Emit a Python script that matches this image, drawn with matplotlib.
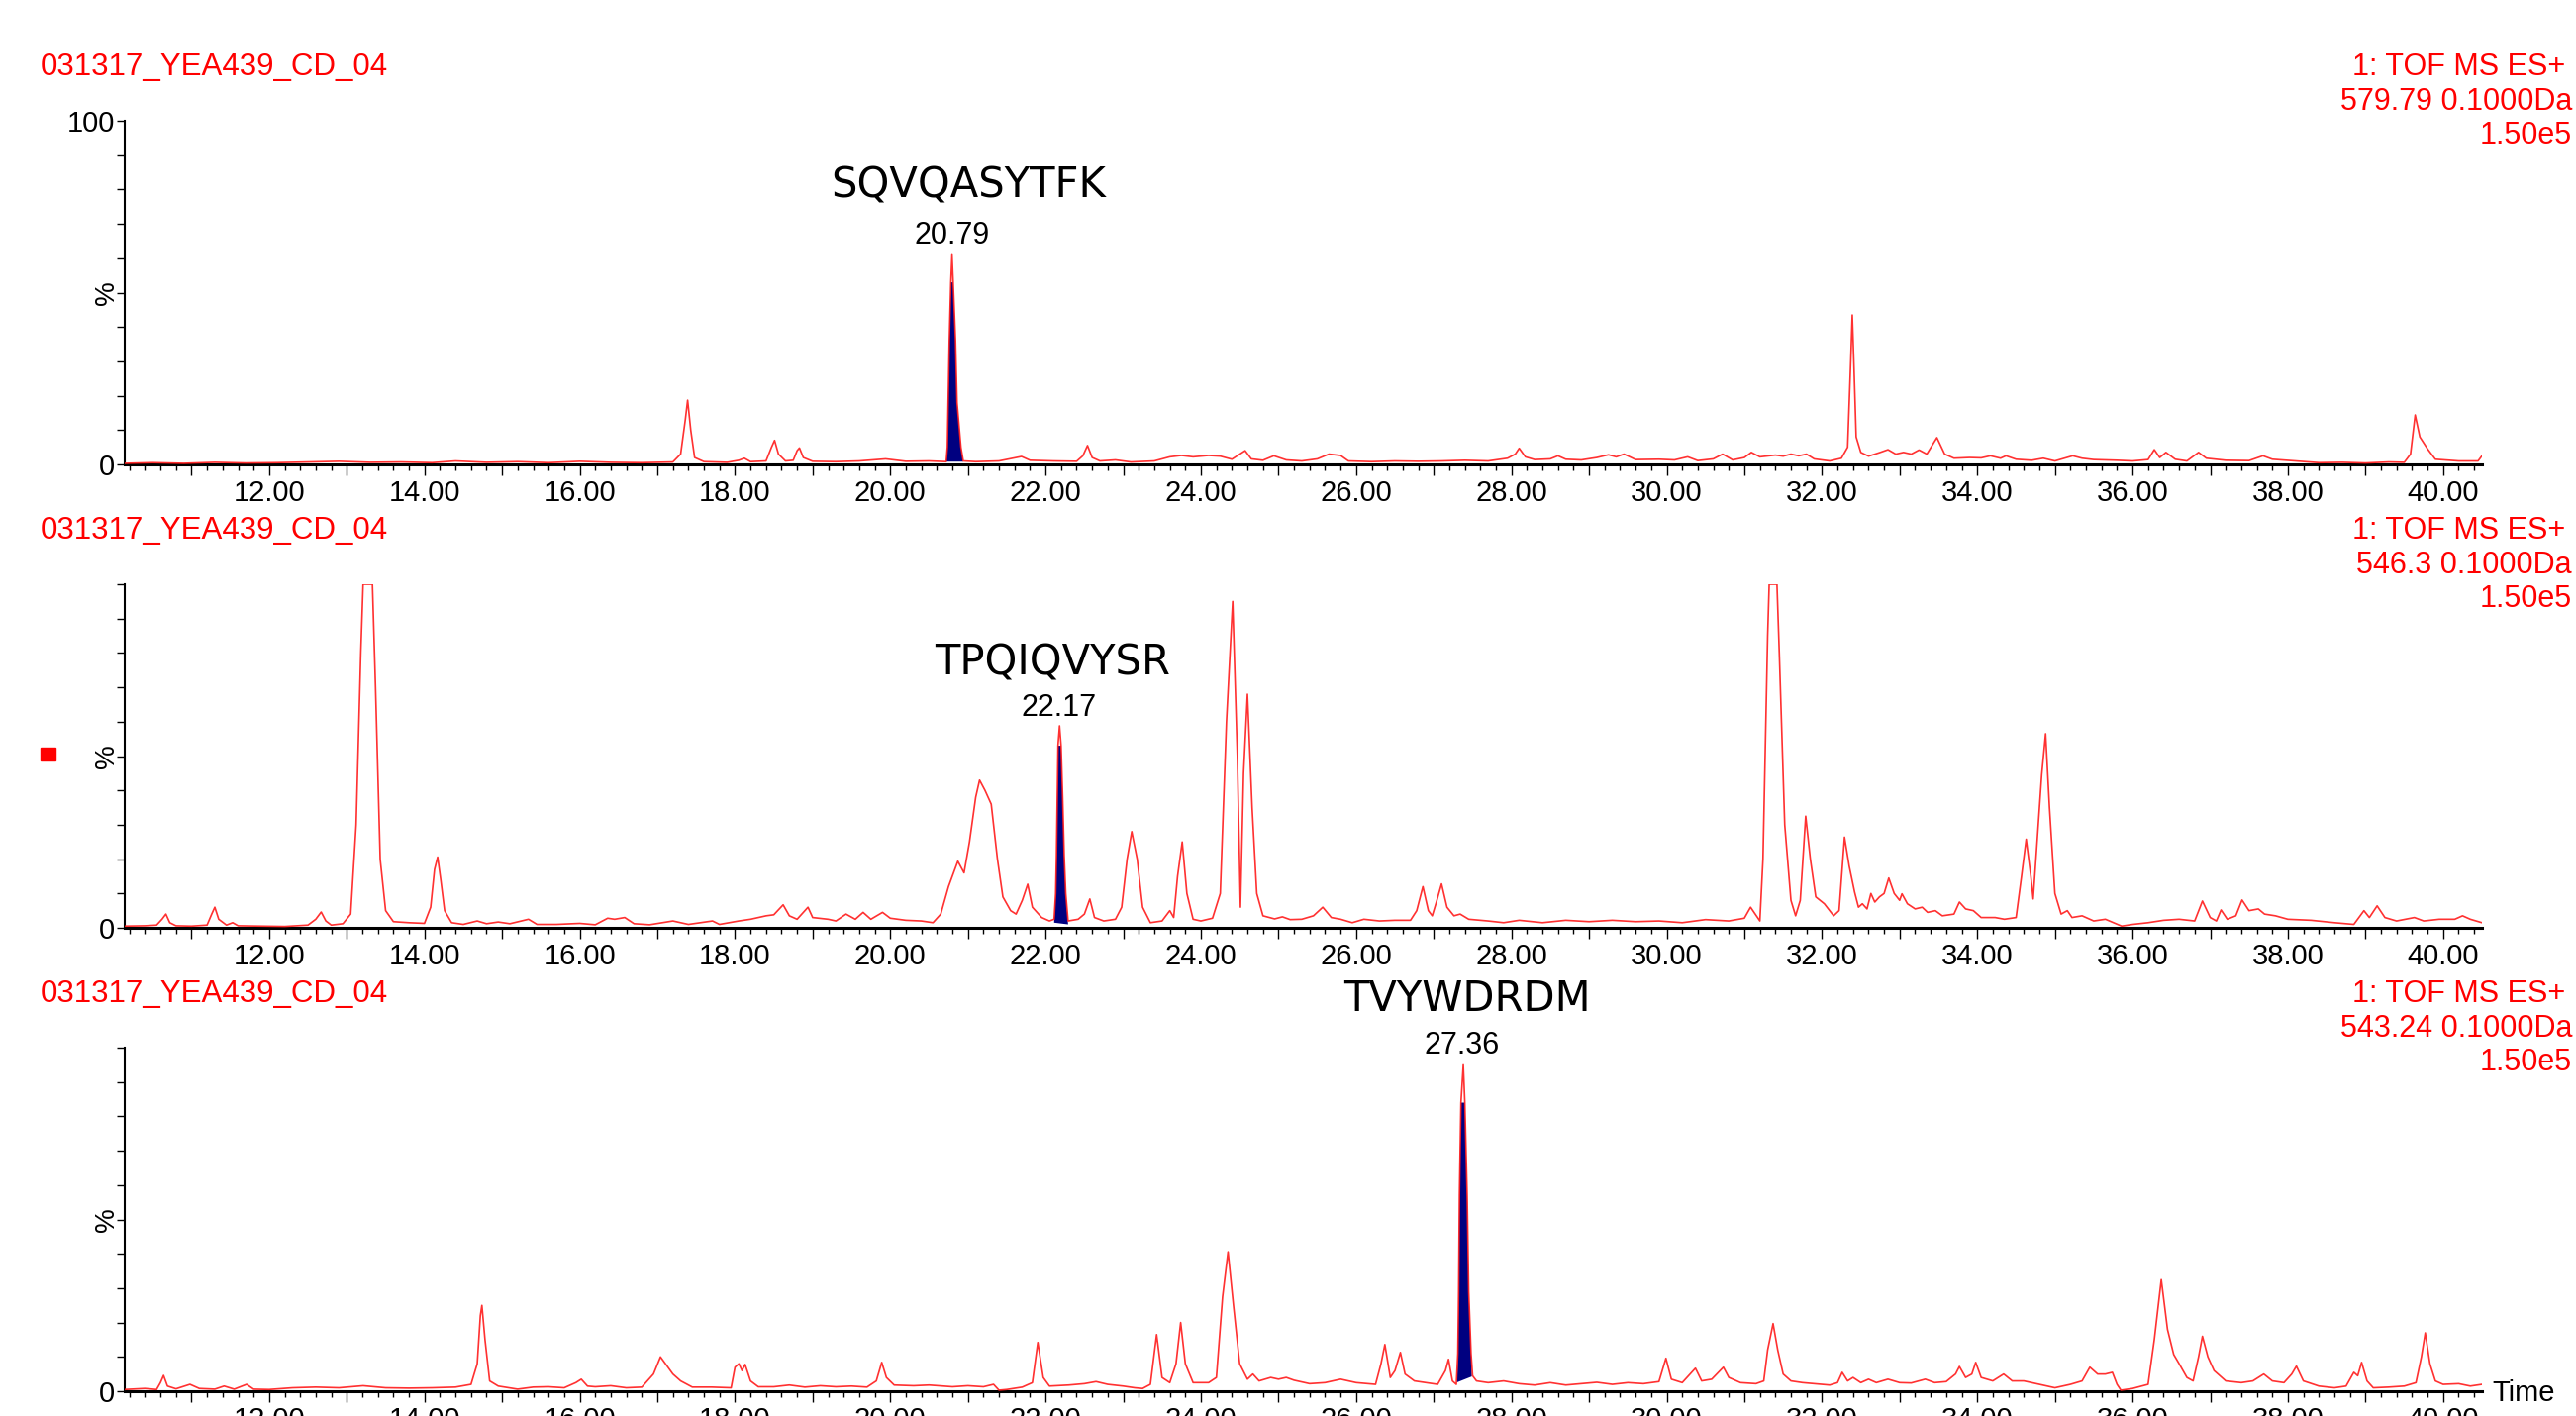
import matplotlib.pyplot as plt
from matplotlib.patches import Rectangle
from matplotlib.ticker import MultipleLocator, FuncFormatter

plt.rcParams['font.family'] = ['Liberation Sans', 'DejaVu Sans']

W, H = 2602, 1430

sample = '031317_YEA439_CD_04'
channel = ['579.79 0.1000Da', '546.3 0.1000Da', '543.24 0.1000Da']
scale = '1.50e5'
peptide = ['SQVQASYTFK', 'TPQIQVYSR', 'TVYWDRDM']
rt_label = ['20.79', '22.17', '27.36']
# label positions (time, %)
peptide_pos = [(21.01, 81), (22.09, 77), (27.43, 114)]
rt_pos = [(20.80, 66.5), (22.17, 64), (27.36, 100.5)]

# chromatogram traces (time min, intensity %)
trace1 = [
    (10.14, 0.3), (10.5, 0.5), (10.9, 0.3), (11.3, 0.6), (11.7, 0.4), (12.1, 0.5),
    (12.5, 0.7), (12.9, 0.9), (13.3, 0.6), (13.7, 0.7), (14.1, 0.5), (14.4, 1.0),
    (14.8, 0.6), (15.2, 0.8), (15.6, 0.5), (16.0, 0.9), (16.4, 0.6), (16.8, 0.5),
    (17.2, 0.7), (17.3, 3), (17.36, 13), (17.39, 18.7), (17.43, 10), (17.48, 2),
    (17.6, 0.8), (17.9, 0.6), (18.05, 1.2), (18.12, 1.8), (18.2, 0.8), (18.4, 1.0),
    (18.47, 5), (18.51, 7.0), (18.56, 3), (18.65, 1.0), (18.75, 1.2), (18.8, 4),
    (18.83, 4.8), (18.88, 2), (19.0, 0.9), (19.3, 0.8), (19.6, 1.0), (19.94, 1.6),
    (20.2, 0.9), (20.5, 1.0), (20.72, 0.8), (20.735, 5), (20.745, 18), (20.76, 36),
    (20.78, 53), (20.795, 61), (20.81, 53), (20.84, 36), (20.86, 18), (20.91, 5),
    (20.94, 1.0), (21.1, 0.8), (21.4, 1.0), (21.69, 2.3), (21.8, 1.2),
    (22.1, 1.0), (22.4, 0.9), (22.48, 2.5), (22.54, 5.5), (22.6, 2.0), (22.7, 1.0),
    (22.9, 1.3), (23.1, 0.7), (23.4, 1.0), (23.6, 2.2), (23.75, 2.6), (23.9, 2.2),
    (24.1, 2.6), (24.25, 2.4), (24.4, 1.5), (24.57, 4), (24.65, 1.6), (24.8, 1.2),
    (24.94, 2.5), (25.1, 1.3), (25.3, 1.0), (25.5, 1.6), (25.65, 3.0), (25.8, 2.6),
    (25.9, 1.0), (26.2, 0.8), (26.5, 1.0), (26.8, 0.9), (27.1, 1.0), (27.4, 1.2),
    (27.7, 1.0), (27.95, 1.8), (28.05, 3), (28.1, 4.7), (28.18, 2.2), (28.3, 1.4),
    (28.5, 1.6), (28.6, 2.5), (28.7, 1.5), (28.9, 1.3), (29.1, 2.0), (29.25, 2.8),
    (29.35, 2.2), (29.45, 3.0), (29.6, 1.4), (29.9, 1.5), (30.1, 1.3), (30.27, 2.2),
    (30.4, 1.1), (30.6, 1.6), (30.72, 3.0), (30.85, 1.3), (31.0, 2.0), (31.09, 3.5),
    (31.2, 2.2), (31.4, 2.7), (31.5, 2.4), (31.6, 3.0), (31.7, 2.5), (31.8, 3.0),
    (31.9, 1.6), (32.1, 1.0), (32.25, 1.8), (32.33, 5), (32.37, 30), (32.39, 43.5),
    (32.41, 30), (32.44, 8), (32.5, 3.5), (32.6, 2.4), (32.75, 3.5), (32.85, 4.3),
    (32.95, 3.0), (33.05, 3.5), (33.15, 3.0), (33.25, 4.2), (33.35, 3.0), (33.48, 7.8),
    (33.58, 3.0), (33.7, 1.8), (33.9, 2.0), (34.05, 1.9), (34.17, 2.5), (34.3, 1.8),
    (34.37, 2.5), (34.5, 1.5), (34.7, 1.2), (34.85, 1.8), (35.0, 1.0), (35.23, 2.5),
    (35.35, 1.8), (35.5, 1.4), (35.8, 1.2), (36.0, 1.0), (36.2, 1.4), (36.28, 4.3),
    (36.35, 2.0), (36.43, 3.5), (36.55, 1.5), (36.7, 1.0), (36.85, 3.5), (36.95, 1.8),
    (37.2, 1.2), (37.5, 1.1), (37.68, 2.5), (37.8, 1.5), (38.1, 1.0), (38.4, 0.5),
    (38.7, 0.6), (39.0, 0.4), (39.3, 0.7), (39.5, 0.6), (39.58, 3), (39.64, 14.4),
    (39.7, 8), (39.8, 4.5), (39.9, 1.5), (40.2, 1.0), (40.45, 1.0), (40.5, 2.5),
]

trace2 = [
    (10.14, 0.5), (10.4, 0.6), (10.55, 0.8), (10.62, 2.5), (10.67, 4), (10.72, 1.5),
    (10.8, 0.6), (11.0, 0.5), (11.2, 0.8), (11.26, 4), (11.3, 6), (11.35, 2.5),
    (11.45, 0.8), (11.53, 1.5), (11.6, 0.6), (11.9, 0.5), (12.2, 0.4), (12.5, 0.8),
    (12.6, 2.5), (12.67, 4.6), (12.73, 2.0), (12.8, 0.8), (12.95, 1.2), (13.05, 4),
    (13.12, 30), (13.18, 80), (13.21, 100), (13.33, 100), (13.37, 70), (13.43, 20),
    (13.5, 5), (13.6, 1.8), (13.8, 1.5), (14.0, 1.3), (14.08, 6), (14.13, 17),
    (14.17, 20.6), (14.21, 14), (14.26, 5), (14.35, 1.5), (14.5, 1.0), (14.68, 2.0),
    (14.8, 1.2), (14.95, 1.7), (15.1, 1.2), (15.34, 2.5), (15.45, 1.0), (15.7, 1.0),
    (16.0, 1.3), (16.2, 0.9), (16.36, 2.8), (16.45, 2.5), (16.58, 3.0), (16.7, 1.2),
    (16.9, 0.9), (17.2, 2.0), (17.4, 1.0), (17.71, 2.0), (17.8, 1.0), (18.05, 2.0),
    (18.2, 2.5), (18.4, 3.5), (18.5, 3.8), (18.62, 6.7), (18.7, 3.5), (18.8, 2.5),
    (18.94, 6), (19.0, 3), (19.2, 2.5), (19.3, 2.0), (19.43, 4), (19.55, 2.5),
    (19.65, 4.5), (19.75, 2.5), (19.9, 4.5), (20.0, 2.8), (20.2, 2.2), (20.4, 2.0),
    (20.55, 1.5), (20.65, 4), (20.75, 12), (20.87, 19.4), (20.95, 16), (21.02, 25),
    (21.1, 38), (21.15, 43), (21.22, 40), (21.3, 36), (21.38, 20), (21.45, 9),
    (21.55, 5), (21.62, 4), (21.7, 8), (21.77, 12.7), (21.83, 6), (21.95, 3),
    (22.05, 2), (22.11, 2.5), (22.13, 10), (22.14, 21), (22.15, 38), (22.16, 53),
    (22.18, 58.8), (22.20, 53), (22.22, 38), (22.24, 21), (22.26, 10), (22.29, 2),
    (22.42, 2.5), (22.5, 4), (22.57, 8.4), (22.63, 3),
    (22.75, 2), (22.9, 2.5), (22.98, 6), (23.05, 20), (23.11, 28), (23.18, 20),
    (23.25, 6), (23.35, 1.5), (23.5, 2), (23.6, 5), (23.65, 3), (23.7, 15),
    (23.76, 25), (23.82, 10), (23.9, 2.5), (24.0, 2.0), (24.15, 2.8), (24.25, 10),
    (24.33, 60), (24.41, 95), (24.47, 50), (24.51, 6), (24.55, 45), (24.6, 68),
    (24.66, 35), (24.72, 10), (24.8, 3.5), (24.95, 2.6), (25.05, 3.2), (25.15, 2.4),
    (25.3, 2.5), (25.45, 3.5), (25.57, 6), (25.68, 3), (25.8, 2.5), (25.95, 1.5),
    (26.1, 2.5), (26.3, 2.0), (26.5, 2.2), (26.7, 2.2), (26.78, 5), (26.86, 12),
    (26.93, 5), (26.98, 3.5), (27.04, 8), (27.1, 12.8), (27.17, 6), (27.26, 3.5),
    (27.34, 4), (27.45, 2.5), (27.7, 2.0), (27.9, 1.5), (28.1, 2.2), (28.4, 1.5),
    (28.7, 2.2), (29.0, 1.8), (29.3, 2.2), (29.6, 1.8), (29.9, 2.0), (30.2, 1.5),
    (30.5, 2.4), (30.8, 2.0), (31.0, 2.8), (31.08, 6), (31.14, 4), (31.2, 2.0),
    (31.24, 20), (31.3, 85), (31.32, 100), (31.42, 100), (31.45, 80), (31.52, 30),
    (31.6, 8), (31.66, 3.5), (31.72, 8), (31.79, 32.5), (31.85, 20), (31.92, 9),
    (32.03, 7), (32.15, 3.5), (32.22, 5), (32.29, 26.4), (32.35, 18), (32.42, 10.4),
    (32.47, 6), (32.52, 7), (32.58, 5.5), (32.63, 10), (32.68, 7.5), (32.74, 9),
    (32.8, 10), (32.86, 14.5), (32.93, 10), (33.0, 8), (33.03, 9.9), (33.1, 7),
    (33.2, 5.5), (33.29, 6), (33.36, 4.5), (33.46, 5), (33.55, 3.5), (33.7, 4),
    (33.77, 7.5), (33.85, 5.5), (33.95, 5), (34.05, 3), (34.23, 3), (34.35, 2.5),
    (34.5, 3), (34.57, 15), (34.63, 25.8), (34.69, 15), (34.72, 8.4), (34.77, 25),
    (34.83, 44.6), (34.88, 56.5), (34.93, 35), (35.0, 10), (35.08, 4), (35.16, 5),
    (35.22, 3), (35.35, 3.5), (35.5, 2.0), (35.65, 2.5), (35.86, 0.5), (36.0, 1.0),
    (36.2, 1.5), (36.4, 2.2), (36.6, 2.5), (36.8, 2.0), (36.9, 7.8), (37.0, 3),
    (37.08, 2), (37.14, 5.2), (37.22, 2.5), (37.33, 3.5), (37.41, 8.1), (37.5, 5),
    (37.62, 5.5), (37.7, 4), (37.84, 3.5), (38.0, 2.5), (38.3, 2.2), (38.6, 1.5),
    (38.85, 1.0), (38.98, 5), (39.05, 3), (39.15, 6.4), (39.25, 3), (39.4, 2.0),
    (39.63, 3), (39.75, 2), (39.95, 2.5), (40.15, 2.5), (40.25, 3.5), (40.35, 2.5),
    (40.5, 1.5),
]

trace3 = [
    (10.14, 0.5), (10.4, 0.8), (10.55, 0.5), (10.6, 2.5), (10.64, 4.6), (10.69, 1.5),
    (10.8, 0.7), (10.98, 2.0), (11.1, 0.8), (11.3, 0.6), (11.42, 1.5), (11.55, 0.6),
    (11.71, 2.0), (11.8, 0.6), (12.0, 0.5), (12.3, 1.0), (12.6, 1.2), (12.9, 1.0),
    (13.21, 1.6), (13.5, 1.0), (13.8, 0.9), (14.1, 1.0), (14.4, 1.2), (14.6, 2.0),
    (14.68, 8), (14.72, 22), (14.74, 25), (14.78, 15), (14.84, 3), (14.95, 1.5),
    (15.2, 0.6), (15.4, 1.2), (15.6, 1.3), (15.8, 1.0), (15.95, 2.5), (16.02, 3.5),
    (16.1, 1.5), (16.2, 1.3), (16.4, 1.6), (16.6, 1.0), (16.8, 1.2), (16.95, 5),
    (17.04, 10), (17.12, 7.5), (17.2, 5), (17.3, 3), (17.45, 1.2), (17.7, 1.2),
    (17.95, 1.0), (18.0, 7), (18.05, 8), (18.09, 6), (18.13, 7.8), (18.2, 3),
    (18.3, 1.3), (18.5, 1.3), (18.7, 1.8), (18.9, 1.2), (19.1, 1.6), (19.3, 1.3),
    (19.5, 1.5), (19.7, 1.2), (19.82, 3), (19.89, 8.4), (19.95, 4), (20.05, 1.8),
    (20.3, 1.6), (20.5, 1.8), (20.8, 1.3), (21.0, 1.6), (21.2, 1.3), (21.33, 2.0),
    (21.4, 0.3), (21.5, 0.5), (21.7, 1.2), (21.83, 2.5), (21.9, 14.2), (21.97, 4),
    (22.05, 1.5), (22.3, 1.8), (22.5, 2.2), (22.65, 2.8), (22.8, 2.0), (23.0, 1.5),
    (23.15, 1.0), (23.25, 0.8), (23.35, 2), (23.43, 16.5), (23.5, 4), (23.6, 2.5),
    (23.68, 8), (23.74, 20), (23.8, 8), (23.9, 2.5), (24.1, 2.5), (24.2, 4),
    (24.28, 27.5), (24.35, 40.6), (24.42, 25), (24.5, 8), (24.6, 3.5), (24.67, 5),
    (24.75, 3), (24.9, 4), (25.0, 3.5), (25.1, 4), (25.2, 3.2), (25.4, 2.2),
    (25.6, 2.5), (25.8, 3.5), (25.9, 3), (26.0, 2.5), (26.25, 2), (26.32, 8),
    (26.37, 13.6), (26.44, 4), (26.5, 6), (26.57, 11.3), (26.63, 5), (26.75, 3),
    (26.9, 2.5), (27.05, 2), (27.15, 6), (27.19, 9.3), (27.24, 3), (27.29, 2),
    (27.31, 11), (27.32, 29), (27.33, 57), (27.35, 84), (27.38, 95), (27.40, 84),
    (27.43, 57), (27.45, 29), (27.48, 11), (27.50, 4.5), (27.55, 3), (27.7, 2.5),
    (27.9, 3),
    (28.1, 2.2), (28.3, 1.8), (28.5, 2.5), (28.7, 1.8), (28.9, 2.2), (29.1, 2.6),
    (29.3, 2.0), (29.5, 2.5), (29.7, 2.2), (29.9, 2.8), (29.99, 9.6), (30.06, 3.5),
    (30.2, 2.5), (30.37, 6.7), (30.45, 3), (30.58, 3.5), (30.73, 7), (30.8, 4),
    (30.95, 2.5), (31.15, 2.2), (31.25, 3), (31.3, 12), (31.37, 19.7), (31.43, 12),
    (31.5, 5), (31.6, 3), (31.75, 2.5), (31.9, 2.2), (32.1, 1.8), (32.2, 2.5),
    (32.26, 5.5), (32.33, 3), (32.4, 4), (32.5, 2.5), (32.6, 3.5), (32.7, 2.5),
    (32.85, 3.5), (33.0, 2.5), (33.15, 2.4), (33.33, 3.5), (33.45, 2.5), (33.6, 2.8),
    (33.72, 5), (33.77, 7.2), (33.85, 4), (33.93, 5), (33.98, 8.4), (34.05, 4),
    (34.2, 3), (34.34, 5), (34.45, 3), (34.6, 3), (34.8, 2), (35.0, 1.0),
    (35.2, 2), (35.35, 3), (35.45, 7), (35.55, 5), (35.65, 5), (35.74, 5.5),
    (35.8, 2), (35.85, 0.3), (36.0, 0.8), (36.2, 2.0), (36.28, 15), (36.37, 32.5),
    (36.45, 18), (36.53, 10.7), (36.6, 8), (36.7, 4), (36.78, 3), (36.85, 10),
    (36.9, 16), (36.97, 10), (37.05, 6), (37.2, 3), (37.4, 2.5), (37.55, 3),
    (37.69, 5), (37.8, 3), (37.95, 2.5), (38.05, 5), (38.11, 7.3), (38.2, 3),
    (38.4, 1.5), (38.6, 1.0), (38.75, 1.5), (38.85, 5.5), (38.9, 4.5), (38.95, 8.4),
    (39.02, 3), (39.1, 1.0), (39.3, 1.2), (39.5, 1.5), (39.65, 2.5), (39.72, 10),
    (39.77, 17), (39.83, 8), (39.9, 3), (40.0, 2), (40.2, 2.2), (40.35, 1.5),
    (40.5, 2),
]

# integrated peak areas (blue), closed on the integration baseline
area1 = [(20.72, 0.8), (20.735, 5), (20.745, 18), (20.76, 36), (20.78, 53),
         (20.81, 53), (20.84, 36), (20.86, 18), (20.91, 5), (20.94, 0.8)]
area2 = [(22.11, 1.5), (22.13, 10), (22.14, 21), (22.15, 38), (22.16, 53),
         (22.20, 53), (22.22, 38), (22.24, 21), (22.26, 10), (22.29, 1.0)]
area3 = [(27.30, 2.6), (27.31, 11), (27.32, 29), (27.33, 57), (27.35, 84),
         (27.40, 84), (27.43, 57), (27.45, 29), (27.48, 11), (27.49, 4.3)]

traces = [trace1, trace2, trace3]
areas = [area1, area2, area3]

# layout in pixels of the original picture
axis_zero_px = [469, 937, 1405]
title_px = [68, 536, 1004]

fig = plt.figure(figsize=(W / 100, H / 100), dpi=100)

for i in range(3):
    ax = fig.add_axes([126 / W, 1 - axis_zero_px[i] / H, 2381 / W, 347 / H])
    t, y = zip(*traces[i])
    at, ay = zip(*areas[i])
    ax.fill(list(at) + [at[-1], at[0]], list(ay) + [ay[-1], ay[0]],
            color='#000080', lw=0, zorder=2)
    ax.plot(t, y, color='#ff1a1a', lw=1.2, alpha=0.9, zorder=3)

    ax.set_xlim(10.14, 40.5)
    ax.set_ylim(0, 100)
    for s in ['top', 'right']:
        ax.spines[s].set_visible(False)
    ax.spines['bottom'].set_linewidth(2.2)
    ax.spines['left'].set_linewidth(1.5)

    ax.xaxis.set_major_locator(MultipleLocator(1))
    ax.xaxis.set_minor_locator(MultipleLocator(0.2))
    ax.xaxis.set_major_formatter(FuncFormatter(
        lambda v, p: '%.2f' % v if round(v) % 2 == 0 else ''))
    ax.yaxis.set_major_locator(MultipleLocator(10))
    if i == 0:
        ax.yaxis.set_major_formatter(FuncFormatter(
            lambda v, p: '%d' % v if v in (0, 100) else ''))
    else:
        ax.yaxis.set_major_formatter(FuncFormatter(
            lambda v, p: '0' if v == 0 else ''))
    ax.tick_params(axis='x', which='major', length=8, width=1, labelsize=21, pad=3)
    ax.tick_params(axis='x', which='minor', length=4.5, width=1)
    ax.tick_params(axis='y', which='major', length=6, width=1, labelsize=21, pad=1)

    fig.text(108 / W, 1 - (axis_zero_px[i] - 173) / H, '%', rotation=90,
             ha='center', va='center', fontsize=20)

    fig.text(41 / W, 1 - title_px[i] / H, sample, color='red', fontsize=22.5,
             ha='left', va='center')
    fig.text(2591 / W, 1 - title_px[i] / H, '1: TOF MS ES+', color='red',
             fontsize=22, ha='right', va='center')
    fig.text(2598 / W, 1 - (title_px[i] + 35) / H, channel[i], color='red',
             fontsize=22, ha='right', va='center')
    fig.text(2598 / W, 1 - (title_px[i] + 69) / H, scale, color='red',
             fontsize=22, ha='right', va='center')

    ax.text(peptide_pos[i][0], peptide_pos[i][1], peptide[i], ha='center',
            va='center', fontsize=30, family='DejaVu Sans', clip_on=False)
    ax.text(rt_pos[i][0], rt_pos[i][1], rt_label[i], ha='center', va='center',
            fontsize=22, clip_on=False)

    if i == 2:
        fig.text(2517 / W, 1 - 1407 / H, 'Time', fontsize=21, ha='left', va='center')

# small red marker beside the second trace
fig.patches.append(Rectangle((41 / W, 1 - 768 / H), 15 / W, 13 / H,
                             transform=fig.transFigure, color='red'))

plt.savefig('out.png', dpi=100)
